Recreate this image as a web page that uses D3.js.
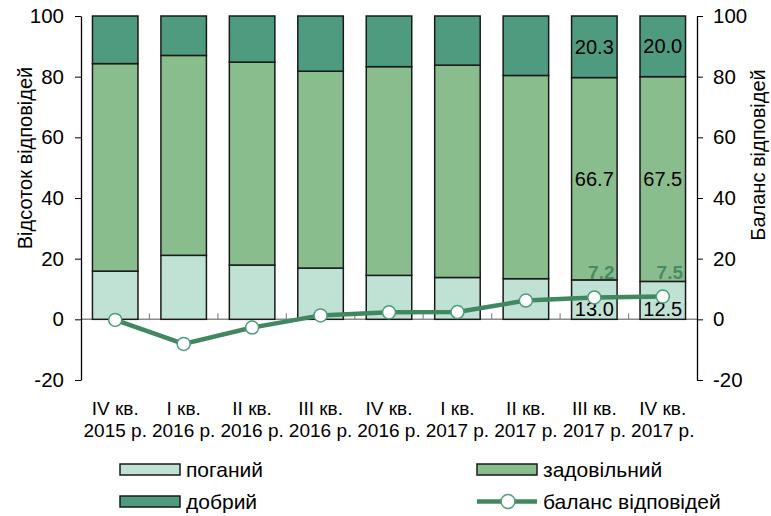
<!DOCTYPE html>
<html>
<head>
<meta charset="utf-8">
<script src="https://cdn.jsdelivr.net/npm/d3@7"></script>
<style>
  body { margin: 0; background: #fff; }
  svg { font-family: "Liberation Sans", Arial, sans-serif; }
  .axis path, .axis line { stroke: #000; }
  .axis text { font-size: 20.5px; fill: #000; }
</style>
</head>
<body>
<div id="chart"></div>
<script>
// ---------------------------------------------------------------------------
// Data
// ---------------------------------------------------------------------------
var quarters = ["IV кв.", "I кв.", "II кв.", "III кв.", "IV кв.", "I кв.", "II кв.", "III кв.", "IV кв."];
var years = ["2015 р.", "2016 р.", "2016 р.", "2016 р.", "2016 р.", "2017 р.", "2017 р.", "2017 р.", "2017 р."];

var poor = [15.9, 21.1, 17.9, 16.9, 14.5, 13.8, 13.4, 13.0, 12.5];
var satisfactory = [68.4, 65.9, 66.9, 64.9, 68.8, 70.0, 67.0, 66.7, 67.5];
var good = [15.7, 13.0, 15.2, 18.2, 16.7, 16.2, 19.6, 20.3, 20.0];
var balance = [-0.2, -8.1, -2.7, 1.3, 2.3, 2.4, 6.2, 7.2, 7.5];
var labelled = [7, 8];

var seriesNames = ["поганий", "задовільний", "добрий"];
var lineName = "баланс відповідей";
var yTicks = [-20, 0, 20, 40, 60, 80, 100];

var colors = ["#c0e2d4", "#8abd8e", "#4e9b80"];
var lineColor = "#41875f";

// ---------------------------------------------------------------------------
// Chart
// ---------------------------------------------------------------------------
var W = 771, H = 516;
var margin = {top: 16, right: 74, bottom: 136, left: 81};

var svg = d3.select("#chart").append("svg")
    .attr("width", W)
    .attr("height", H);

var rows = quarters.map(function(q, i) {
  return {i: i, poor: poor[i], satisfactory: satisfactory[i], good: good[i]};
});

var xScale = d3.scaleBand()
    .domain(d3.range(quarters.length))
    .range([margin.left, W - margin.right])
    .paddingInner(0.335)
    .paddingOuter(0.1675);

var yScale = d3.scaleLinear()
    .domain([-20, 100])
    .range([H - margin.bottom, margin.top]);

var stack = d3.stack().keys(["poor", "satisfactory", "good"]);
var layers = stack(rows);

function cx(i) { return xScale(i) + xScale.bandwidth() / 2; }

// zero line with category separators
var x0 = margin.left, x1 = W - margin.right;
svg.append("line")
    .attr("x1", x0).attr("x2", x1)
    .attr("y1", yScale(0)).attr("y2", yScale(0))
    .attr("stroke", "#8a8a8a").attr("stroke-width", 1.5);

svg.selectAll(".sep")
    .data(d3.range(1, quarters.length))
    .enter().append("line")
    .attr("x1", function(d) { return x0 + d * xScale.step(); })
    .attr("x2", function(d) { return x0 + d * xScale.step(); })
    .attr("y1", yScale(0))
    .attr("y2", yScale(0) - 6)
    .attr("stroke", "#8a8a8a").attr("stroke-width", 1.2);

// bars
svg.selectAll(".layer")
    .data(layers)
    .enter().append("g")
    .attr("fill", function(d, i) { return colors[i]; })
  .selectAll("rect")
    .data(function(d) { return d; })
    .enter().append("rect")
    .attr("x", function(d) { return xScale(d.data.i); })
    .attr("y", function(d) { return yScale(d[1]); })
    .attr("width", xScale.bandwidth())
    .attr("height", function(d) { return yScale(d[0]) - yScale(d[1]); })
    .attr("stroke", "#1a1a1a")
    .attr("stroke-width", 1.5);

// value labels inside the last bars
labelled.forEach(function(i) {
  svg.append("text")
      .attr("x", cx(i)).attr("y", yScale(0) - 3)
      .attr("text-anchor", "middle")
      .attr("font-size", 20)
      .text(poor[i].toFixed(1));
  svg.append("text")
      .attr("x", cx(i)).attr("y", yScale(poor[i] + satisfactory[i] / 2))
      .attr("dy", "0.35em")
      .attr("text-anchor", "middle")
      .attr("font-size", 20)
      .text(satisfactory[i].toFixed(1));
  svg.append("text")
      .attr("x", cx(i)).attr("y", yScale(100 - good[i] / 2))
      .attr("dy", "0.35em")
      .attr("text-anchor", "middle")
      .attr("font-size", 20)
      .text(good[i].toFixed(1));
});

// balance line
var line = d3.line()
    .x(function(d, i) { return cx(i); })
    .y(function(d) { return yScale(d); });

svg.append("path")
    .datum(balance)
    .attr("fill", "none")
    .attr("stroke", lineColor)
    .attr("stroke-width", 4.5)
    .attr("d", line);

svg.selectAll(".pt")
    .data(balance)
    .enter().append("circle")
    .attr("cx", function(d, i) { return cx(i); })
    .attr("cy", function(d) { return yScale(d); })
    .attr("r", 6.5)
    .attr("fill", "#fff")
    .attr("stroke", "#4e9b80")
    .attr("stroke-width", 1.5);

labelled.forEach(function(i) {
  svg.append("text")
      .attr("x", cx(i) + 7)
      .attr("y", yScale(balance[i]) - 18)
      .attr("text-anchor", "middle")
      .attr("font-size", 19)
      .attr("font-weight", "bold")
      .attr("fill", "#4a8a63")
      .text(balance[i].toFixed(1));
});

// axes
var fmt = function(d) { return String(d); };

svg.append("g")
    .attr("class", "axis")
    .attr("transform", "translate(" + margin.left + ",0)")
    .call(d3.axisLeft(yScale).tickValues(yTicks).tickFormat(fmt)
        .tickSize(6).tickSizeOuter(0).tickPadding(11));

svg.append("g")
    .attr("class", "axis")
    .attr("transform", "translate(" + (W - margin.right) + ",0)")
    .call(d3.axisRight(yScale).tickValues(yTicks).tickFormat(fmt)
        .tickSize(6).tickSizeOuter(0).tickPadding(10));

svg.selectAll(".axis path").attr("stroke-width", 1.3);

// category labels
var cats = svg.append("g").attr("font-size", 19).attr("text-anchor", "middle");
quarters.forEach(function(q, i) {
  cats.append("text").attr("x", cx(i)).attr("y", 415).text(q);
  cats.append("text").attr("x", cx(i)).attr("y", 437).text(years[i]);
});

// axis titles
svg.append("text")
    .attr("transform", "translate(32,158) rotate(-90)")
    .attr("text-anchor", "middle")
    .attr("font-size", 20)
    .text("Відсоток відповідей");

svg.append("text")
    .attr("transform", "translate(765,155) rotate(-90)")
    .attr("text-anchor", "middle")
    .attr("font-size", 20)
    .text("Баланс відповідей");

// legend
var legendPos = [[120, 464], [477, 464], [120, 496]];
seriesNames.forEach(function(name, i) {
  var p = legendPos[i];
  svg.append("rect")
      .attr("x", p[0]).attr("y", p[1])
      .attr("width", 60).attr("height", 11)
      .attr("fill", colors[i])
      .attr("stroke", "#1a1a1a").attr("stroke-width", 1.5);
  svg.append("text")
      .attr("x", p[0] + 66).attr("y", p[1] + 13)
      .attr("font-size", 21)
      .text(name);
});

svg.append("line")
    .attr("x1", 477).attr("x2", 537)
    .attr("y1", 501.5).attr("y2", 501.5)
    .attr("stroke", lineColor).attr("stroke-width", 4.5);
svg.append("circle")
    .attr("cx", 508).attr("cy", 501.5).attr("r", 7)
    .attr("fill", "#fff").attr("stroke", "#4e9b80").attr("stroke-width", 1.5);
svg.append("text")
    .attr("x", 543).attr("y", 509)
    .attr("font-size", 21)
    .text(lineName);
</script>
</body>
</html>
